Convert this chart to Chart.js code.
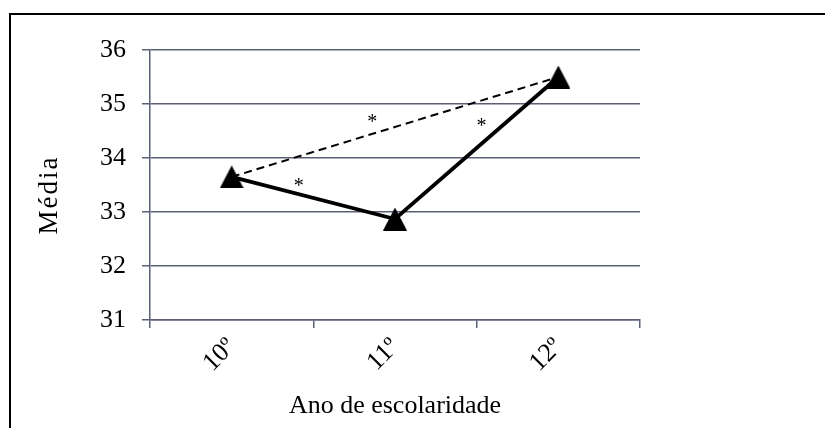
<!DOCTYPE html>
<html>
<head>
<meta charset="utf-8">
<script src="https://cdn.jsdelivr.net/npm/chart.js@4.4.1/dist/chart.umd.min.js"></script>
<style>
    body { margin: 0; background: #fff; overflow: hidden; }
    #frame {
        position: absolute; left: 9px; top: 13px;
        width: 900px; height: 500px;
        border-top: 2px solid #000; border-left: 2px solid #000;
    }
    #wrap { position: absolute; left: 0; top: 0; width: 825px; height: 428px; }
</style>
</head>
<body>
<div id="frame"></div>
<div id="wrap"><canvas id="chart" width="825" height="428"></canvas></div>
<script>
// Data
const categories = ['10º', '11º', '12º'];
const means = [33.65, 32.87, 35.5];
const firstVsLast = [33.65, null, 35.5];   // dashed comparison 10º -> 12º
const yTicks = [31, 32, 33, 34, 35, 36];

// asterisks (position in category index / value units)
const starX = [0.41, 0.86, 1.53];
const starY = [33.54, 34.72, 34.65];

const xTitle = 'Ano de escolaridade';
const yTitle = 'Média';

const serif = "'Liberation Serif', 'Times New Roman', serif";
const gridColor = '#5b6079';

// Excel-like triangle marker
function triangleMarker() {
    const c = document.createElement('canvas');
    c.width = 24;
    c.height = 23;
    const g = c.getContext('2d');
    g.fillStyle = '#000';
    g.beginPath();
    g.moveTo(12, 0);
    g.lineTo(24, 23);
    g.lineTo(0, 23);
    g.closePath();
    g.fill();
    return c;
}

// draws the * marks and the two axis titles
const extrasPlugin = {
    id: 'extras',
    afterDatasetsDraw(chart) {
        const ctx = chart.ctx;
        const xs = chart.scales.x;
        const ys = chart.scales.y;
        const area = chart.chartArea;
        ctx.save();
        ctx.fillStyle = '#000';
        ctx.textAlign = 'center';
        ctx.textBaseline = 'middle';

        ctx.font = '20px ' + serif;
        for (let i = 0; i < starX.length; i++) {
            ctx.fillText('*', xs.getPixelForValue(starX[i]), ys.getPixelForValue(starY[i]) + 4);
        }

        ctx.font = '26px ' + serif;
        ctx.fillText(xTitle, (area.left + area.right) / 2, 406);

        ctx.font = '27px ' + serif;
        ctx.letterSpacing = '2px';
        ctx.translate(50, 195);
        ctx.rotate(-Math.PI / 2);
        ctx.fillText(yTitle, 0, 0);
        ctx.restore();
    }
};

const ctx = document.getElementById('chart').getContext('2d');
const chart = new Chart(ctx, {
    type: 'line',
    data: {
        labels: categories,
        datasets: [{
            data: means,
            borderColor: '#000',
            borderWidth: 3.8,
            pointStyle: triangleMarker(),
            pointRadius: 12,
            pointBackgroundColor: '#000',
            order: 1
        }, {
            data: firstVsLast,
            spanGaps: true,
            borderColor: '#000',
            borderWidth: 2,
            borderDash: [8, 5],
            pointRadius: 0,
            order: 2
        }]
    },
    options: {
        responsive: false,
        animation: false,
        layout: { padding: { left: 0, right: 185, top: 50, bottom: 0 } },
        plugins: {
            legend: { display: false },
            tooltip: { enabled: false }
        },
        scales: {
            x: {
                offset: true,
                afterFit: s => { s.height = 108; },
                grid: {
                    offset: true,
                    drawOnChartArea: false,
                    color: gridColor,
                    lineWidth: 1.5,
                    tickLength: 8
                },
                border: { color: gridColor, width: 1.5 },
                ticks: {
                    color: '#000',
                    font: { family: serif, size: 26 },
                    minRotation: 45,
                    maxRotation: 45,
                    autoSkip: false,
                    padding: 4
                }
            },
            y: {
                min: 31,
                max: 36,
                afterFit: s => { s.width = 150; },
                afterBuildTicks: s => { s.ticks = yTicks.map(v => ({ value: v })); },
                grid: {
                    color: gridColor,
                    lineWidth: 1.5,
                    tickLength: 8
                },
                border: { color: gridColor, width: 1.5 },
                ticks: {
                    color: '#000',
                    font: { family: serif, size: 26 },
                    padding: 16
                }
            }
        }
    },
    plugins: [extrasPlugin]
});
</script>
</body>
</html>
